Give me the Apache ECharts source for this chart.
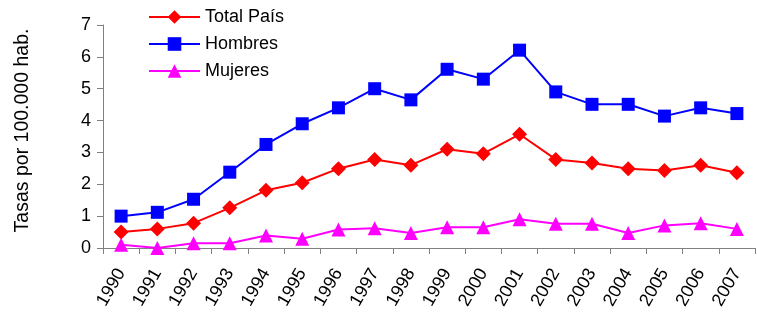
<!DOCTYPE html>
<html>
<head>
<meta charset="utf-8">
<script src="https://cdn.jsdelivr.net/npm/echarts@6/dist/echarts.min.js"></script>
<style>
  html, body { margin: 0; padding: 0; background: #fff; }
  #chart { width: 757px; height: 315px; }
</style>
</head>
<body>
<div id="chart"></div>
<script>
const years = ['1990', '1991', '1992', '1993', '1994', '1995', '1996', '1997', '1998',
  '1999', '2000', '2001', '2002', '2003', '2004', '2005', '2006', '2007']
const totalPais = [0.5, 0.6, 0.78, 1.26, 1.81, 2.05, 2.49, 2.78, 2.6,
  3.1, 2.96, 3.57, 2.78, 2.67, 2.49, 2.43, 2.6, 2.36]
const hombres = [1.0, 1.12, 1.53, 2.38, 3.25, 3.9, 4.4, 5.0, 4.65,
  5.61, 5.3, 6.21, 4.9, 4.51, 4.51, 4.14, 4.4, 4.22]
const mujeres = [0.1, 0.0, 0.15, 0.15, 0.39, 0.29, 0.58, 0.62, 0.47,
  0.65, 0.65, 0.9, 0.76, 0.76, 0.47, 0.71, 0.78, 0.6]

const font = 'Liberation Sans, Arial, sans-serif'
const chart = echarts.init(document.getElementById('chart'))

chart.setOption({
  animation: false,
  grid: {left: 103, right: 2, top: 25, bottom: 67},
  legend: {
    orient: 'vertical',
    left: 143,
    top: 3,
    itemWidth: 51,
    itemHeight: 17,
    itemGap: 9,
    textStyle: {fontFamily: font, fontSize: 18, color: '#000'},
    data: ['Total País', 'Hombres', 'Mujeres']
  },
  xAxis: {
    type: 'category',
    data: years,
    boundaryGap: true,
    axisLine: {lineStyle: {color: '#808080', width: 1}},
    axisTick: {show: true, length: 6, lineStyle: {color: '#808080'}},
    axisLabel: {
      rotate: 60,
      margin: 22,
      interval: 0,
      color: '#000',
      fontFamily: font,
      fontSize: 18
    }
  },
  yAxis: {
    type: 'value',
    min: 0,
    max: 7,
    interval: 1,
    name: 'Tasas por 100.000 hab.',
    nameLocation: 'middle',
    nameGap: 70,
    nameTextStyle: {fontFamily: font, fontSize: 19.5, color: '#000', padding: [0, 0, 0, 12]},
    splitLine: {show: false},
    axisLine: {show: true, lineStyle: {color: '#808080', width: 1}},
    axisTick: {show: true, length: 6, lineStyle: {color: '#808080'}},
    axisLabel: {margin: 12, color: '#000', fontFamily: font, fontSize: 18}
  },
  series: [
    {
      name: 'Total País',
      type: 'line',
      data: totalPais,
      symbol: 'diamond',
      symbolSize: 15,
      itemStyle: {color: '#FF0000'},
      lineStyle: {color: '#FF0000', width: 2}
    },
    {
      name: 'Hombres',
      type: 'line',
      data: hombres,
      symbol: 'rect',
      symbolSize: 13,
      itemStyle: {color: '#0000FF'},
      lineStyle: {color: '#0000FF', width: 2}
    },
    {
      name: 'Mujeres',
      type: 'line',
      data: mujeres,
      symbol: 'triangle',
      symbolSize: 14,
      itemStyle: {color: '#FF00FF'},
      lineStyle: {color: '#FF00FF', width: 2}
    }
  ]
})
</script>
</body>
</html>
